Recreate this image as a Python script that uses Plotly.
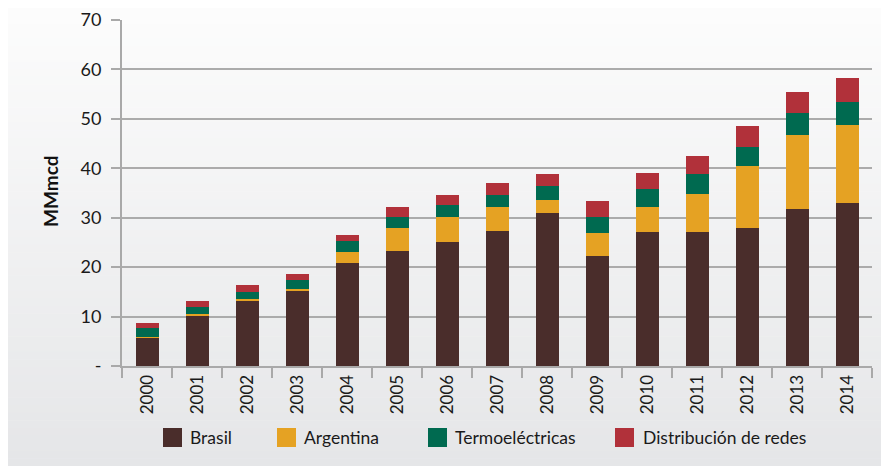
import plotly.graph_objects as go

# Datos (MMmcd)
years = [str(y) for y in range(2000, 2015)]
brasil = [5.7, 10.3, 13.2, 15.2, 20.9, 23.3, 25.1, 27.4, 31.0, 22.3, 27.2, 27.2, 28.0, 31.8, 33.0]
argentina = [0.2, 0.3, 0.3, 0.3, 2.1, 4.7, 5.1, 4.7, 2.5, 4.7, 4.9, 7.5, 12.4, 15.0, 15.8]
termoelectricas = [1.8, 1.4, 1.4, 1.8, 2.2, 2.2, 2.3, 2.4, 3.0, 3.2, 3.8, 4.1, 4.0, 4.3, 4.7]
distribucion = [1.0, 1.1, 1.5, 1.4, 1.4, 1.9, 2.0, 2.5, 2.4, 3.1, 3.2, 3.6, 4.1, 4.3, 4.7]

series_names = ['Brasil', 'Argentina', 'Termoeléctricas', 'Distribución de redes']
series_values = [brasil, argentina, termoelectricas, distribucion]
colors = ['#4a2d2b', '#e5a223', '#006a50', '#b1313a']

y_ticks = [0, 10, 20, 30, 40, 50, 60, 70]
y_ticktext = ['-', '10', '20', '30', '40', '50', '60', '70']

# la página tiene 8px de margen en el body
OFF = 8
W, H = 881, 458
L, R, T, B = 114, 17, 12, 100
pw, ph = W - L - R, H - T - B


def px_x(x):
    # x en pixeles de pantalla -> coordenada paper
    return (x - OFF - L) / pw


def px_y(y):
    return (H - B - (y - OFF)) / ph


FONT = 'Lato, "Noto Sans", sans-serif'

fig = go.Figure()

for name, vals, col in zip(series_names, series_values, colors):
    fig.add_trace(go.Bar(x=years, y=vals, name=name, marker_color=col,
                         marker_line_width=0, showlegend=False))

shapes = []
# fondo degradado
n = 60
top, bot = (252, 252, 252), (229, 230, 232)
for i in range(n):
    t = i / (n - 1)
    c = tuple(round(top[k] + (bot[k] - top[k]) * t) for k in range(3))
    ya = OFF + H * i / n
    yb = OFF + H * (i + 1) / n
    shapes.append(dict(type='rect', xref='paper', yref='paper',
                       x0=px_x(OFF - 1), x1=px_x(OFF + W + 1), y0=px_y(yb + 0.5), y1=px_y(ya),
                       fillcolor='rgb(%d,%d,%d)' % c, line_width=0, layer='below'))

# leyenda manual
legend_pos = [(163, 188), (277, 302), (428, 453), (615, 641)]
annotations = []
for (sx, tx), name, col in zip(legend_pos, series_names, colors):
    shapes.append(dict(type='rect', xref='paper', yref='paper',
                       x0=px_x(sx), x1=px_x(sx + 19), y0=px_y(447), y1=px_y(428),
                       fillcolor=col, line_width=0))
    annotations.append(dict(text=name, xref='paper', yref='paper',
                            x=px_x(tx), y=px_y(437.5), xanchor='left', yanchor='middle',
                            showarrow=False, font=dict(family=FONT, size=17.5, color='#1a1a1a')))

annotations.append(dict(text='<b>MMmcd</b>', xref='paper', yref='paper',
                        x=px_x(51), y=px_y(191), textangle=-90, xanchor='center', yanchor='middle',
                        showarrow=False, font=dict(family=FONT, size=19, color='#111111')))

fig.update_layout(
    width=W, height=H,
    margin=dict(l=L, r=R, t=T, b=B),
    barmode='stack',
    bargap=0.54,
    paper_bgcolor='white',
    plot_bgcolor='rgba(0,0,0,0)',
    shapes=shapes,
    annotations=annotations,
    showlegend=False,
    font=dict(family=FONT, size=16, color='#1a1a1a'),
    xaxis=dict(
        automargin=False,
        showline=True, linecolor='#a9a9a9', linewidth=2,
        ticks='outside', tickson='boundaries', ticklen=10, tickwidth=2, tickcolor='#a9a9a9',
        tickangle=-90, showgrid=False,
        tickfont=dict(family=FONT, size=17, color='#1a1a1a'),
    ),
    yaxis=dict(
        automargin=False,
        range=[0, 70], tickvals=y_ticks, ticktext=y_ticktext,
        showline=True, linecolor='#a9a9a9', linewidth=2,
        ticks='outside', ticklen=9, tickwidth=2, tickcolor='#a9a9a9',
        showgrid=True, gridcolor='#ababab', gridwidth=1.6,
        zeroline=False, ticklabelstandoff=6,
        tickfont=dict(family=FONT, size=18, color='#1a1a1a'),
    ),
)

fig.write_html("out.html")
